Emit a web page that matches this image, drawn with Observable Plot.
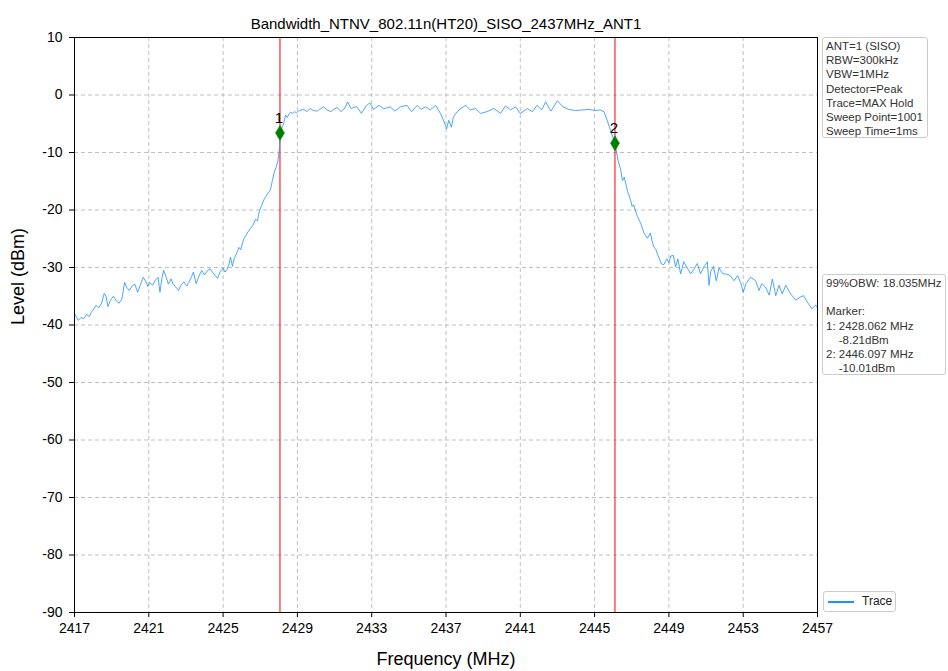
<!DOCTYPE html>
<html>
<head>
<meta charset="utf-8">
<script src="https://cdn.jsdelivr.net/npm/d3@7"></script>
<script src="https://cdn.jsdelivr.net/npm/@observablehq/plot@0.6"></script>
<style>
  html, body { margin: 0; padding: 0; background: #fff; }
  #wrap { position: relative; width: 948px; height: 671px; font-family: "Liberation Sans", Arial, sans-serif; }
  .box { position: absolute; border: 1px solid #cccccc; border-radius: 3px; background: #fff;
         font-size: 11.5px; line-height: 14.2px; color: #333; padding: 1px 3px; box-sizing: border-box; white-space: pre; }
  #legend { position: absolute; left: 823px; top: 591px; width: 73px; height: 21px; border: 1px solid #cccccc;
            border-radius: 3px; box-sizing: border-box; font-size: 12px; color: #222; background: #fff; }
  #legend .ln { position: absolute; left: 4px; top: 9px; width: 26px; height: 2px; background: #1e90ff; }
  #legend .tx { position: absolute; left: 38px; top: 2px; }
</style>
</head>
<body>
<div id="wrap"></div>
<script>
const title = "Bandwidth_NTNV_802.11n(HT20)_SISO_2437MHz_ANT1";
const xLabel = "Frequency (MHz)";
const yLabel = "Level (dBm)";
const xTicks = [2417, 2421, 2425, 2429, 2433, 2437, 2441, 2445, 2449, 2453, 2457];
const yTicks = [-90, -80, -70, -60, -50, -40, -30, -20, -10, 0, 10];

const traceFreq = [
2417.0,2417.1,2417.2,2417.35,2417.5,2417.65,2417.8,2417.9,2418.05,2418.15,
2418.3,2418.45,2418.6,2418.7,2418.8,2418.95,2419.1,2419.25,2419.4,2419.55,
2419.7,2419.8,2419.95,2420.1,2420.25,2420.4,2420.55,2420.7,2420.85,2420.95,
2421.05,2421.2,2421.35,2421.5,2421.6,2421.7,2421.8,2421.95,2422.05,2422.2,
2422.3,2422.45,2422.6,2422.75,2422.9,2423.05,2423.15,2423.3,2423.4,2423.55,
2423.7,2423.85,2424.0,2424.15,2424.3,2424.45,2424.6,2424.7,2424.85,2425.0,
2425.1,2425.2,2425.3,2425.4,2425.5,2425.6,2425.75,2425.85,2425.95,2426.1,
2426.2,2426.3,2426.45,2426.6,2426.75,2426.85,2426.95,2427.05,2427.2,2427.3,
2427.45,2427.55,2427.65,2427.75,2427.85,2427.95,2428.04,2428.062,2428.18,2428.26,
2428.36,2428.45,2428.55,2428.63,2428.75,2428.85,2428.95,2429.06,2429.2,2429.35,
2429.5,2429.7,2429.85,2430.07,2430.2,2430.4,2430.6,2430.8,2431.0,2431.15,
2431.35,2431.55,2431.7,2431.9,2432.05,2432.2,2432.45,2432.7,2432.9,2433.1,
2433.4,2433.65,2434.0,2434.25,2434.55,2434.9,2435.15,2435.45,2435.65,2435.9,
2436.15,2436.44,2436.7,2436.9,2437.03,2437.15,2437.29,2437.4,2437.6,2437.8,
2438.06,2438.3,2438.6,2438.86,2439.2,2439.58,2439.94,2440.2,2440.48,2440.75,
2441.0,2441.38,2441.65,2441.9,2442.15,2442.36,2442.65,2443.0,2443.3,2443.6,
2443.98,2444.34,2444.7,2445.06,2445.3,2445.5,2445.68,2445.86,2446.097,2446.26,
2446.4,2446.5,2446.6,2446.76,2446.94,2447.02,2447.1,2447.3,2447.48,2447.66,
2447.84,2448.0,2448.17,2448.3,2448.46,2448.6,2448.73,2448.82,2448.9,2449.0,
2449.1,2449.24,2449.36,2449.48,2449.63,2449.8,2449.99,2450.17,2450.35,2450.53,
2450.7,2450.9,2451.07,2451.16,2451.25,2451.4,2451.55,2451.7,2451.9,2452.06,
2452.3,2452.5,2452.7,2452.86,2453.0,2453.15,2453.4,2453.67,2453.85,2454.0,
2454.2,2454.4,2454.57,2454.75,2454.93,2455.1,2455.29,2455.56,2455.83,2456.1,
2456.25,2456.45,2456.7,2456.9,2457.0
];
const traceLevel = [
-38.0,-38.6,-39.2,-38.7,-38.9,-38.2,-38.5,-37.8,-37.2,-36.6,
-37.0,-36.3,-34.5,-35.0,-36.8,-35.6,-35.0,-35.8,-36.2,-35.5,
-32.6,-33.4,-34.0,-33.2,-32.9,-34.3,-33.0,-31.7,-32.5,-33.3,
-32.6,-33.1,-32.2,-31.7,-34.3,-32.0,-30.5,-31.8,-32.9,-32.0,
-32.8,-33.4,-34.0,-33.0,-32.5,-33.2,-32.6,-31.6,-30.8,-32.8,
-31.5,-30.5,-31.3,-30.6,-30.2,-30.9,-31.5,-31.9,-30.7,-30.1,
-30.8,-30.4,-29.6,-28.2,-29.8,-28.4,-27.4,-26.5,-26.9,-25.1,
-24.6,-24.0,-23.3,-22.7,-21.6,-21.9,-20.2,-19.4,-18.2,-17.7,
-16.9,-16.5,-14.9,-13.5,-12.6,-11.5,-9.1,-6.6,-5.6,-5.0,
-3.5,-3.9,-3.3,-3.0,-3.2,-2.9,-3.1,-2.8,-2.6,-2.5,
-2.9,-2.35,-2.7,-2.8,-2.5,-2.06,-2.6,-2.9,-2.4,-2.2,
-2.9,-2.3,-1.2,-2.4,-2.1,-2.06,-3.2,-1.9,-1.35,-2.5,
-1.8,-2.4,-2.06,-2.8,-2.06,-1.8,-2.9,-1.8,-2.5,-2.06,
-2.6,-1.8,-3.2,-4.7,-5.9,-4.4,-5.6,-3.8,-2.9,-2.35,
-1.8,-2.6,-2.35,-3.2,-2.9,-2.35,-3.2,-1.9,-2.6,-2.06,
-3.2,-2.35,-2.9,-1.8,-2.6,-1.2,-2.8,-1.0,-2.06,-2.5,
-2.7,-2.6,-2.5,-2.7,-2.6,-2.9,-4.4,-6.2,-8.4,-11.4,
-12.9,-14.9,-14.3,-16.6,-18.3,-19.4,-19.1,-21.1,-22.3,-24.0,
-24.9,-24.0,-26.3,-26.9,-28.3,-29.4,-29.5,-28.9,-28.5,-29.2,
-28.0,-27.9,-29.9,-28.5,-31.1,-29.0,-30.1,-31.1,-30.3,-29.3,
-31.1,-29.8,-29.0,-33.1,-30.7,-29.8,-32.3,-30.1,-31.1,-31.1,
-31.4,-32.3,-31.4,-32.6,-34.3,-32.8,-31.7,-32.3,-34.0,-32.8,
-33.4,-34.8,-32.0,-34.9,-33.1,-34.6,-33.1,-34.6,-35.7,-35.1,
-34.9,-36.0,-37.2,-36.5,-37.0
];

const markerIds = ["1", "2"];
const markerFreq = [2428.062, 2446.097];
const markerLevel = [-6.6, -8.4];

const settingsText = ["ANT=1 (SISO)", "RBW=300kHz", "VBW=1MHz", "Detector=Peak", "Trace=MAX Hold", "Sweep Point=1001", "Sweep Time=1ms"];
const resultText = ["99%OBW: 18.035MHz", "", "Marker:", "1: 2428.062 MHz", "    -8.21dBm", "2: 2446.097 MHz", "    -10.01dBm"];
const legendLabel = "Trace";

const trace = traceFreq.map((f, i) => ({f, v: traceLevel[i]}));
const markers = markerIds.map((id, i) => ({id, f: markerFreq[i], v: markerLevel[i]}));

const thinDiamond = {
  draw(ctx, size) {
    const h = Math.sqrt(size / Math.PI);
    const w = h * 0.6;
    ctx.moveTo(0, -h); ctx.lineTo(w, 0); ctx.lineTo(0, h); ctx.lineTo(-w, 0); ctx.closePath();
  }
};

const font = "'Liberation Sans', Arial, sans-serif";
const grid = {stroke: "#b0b0b0", strokeOpacity: 1, strokeDasharray: "4,3", strokeWidth: 0.8};

const chart = Plot.plot({
  width: 948, height: 671,
  marginLeft: 74, marginRight: 131, marginTop: 37, marginBottom: 59,
  x: {domain: [2417, 2457]},
  y: {domain: [-90, 10]},
  style: {fontFamily: font, fontSize: "14px", color: "black", background: "white"},
  marks: [
    Plot.gridX(xTicks, grid),
    Plot.gridY(yTicks, grid),
    Plot.axisX(xTicks, {tickSize: 5, tickPadding: 6, tickFormat: d => String(d), fontSize: 14, label: null}),
    Plot.axisY(yTicks, {tickSize: 5, tickPadding: 7, tickFormat: d => String(d), fontSize: 14, label: null}),
    Plot.ruleX(markerFreq, {stroke: "red", strokeWidth: 1}),
    Plot.line(trace, {x: "f", y: "v", stroke: "#1e90ff", strokeWidth: 0.8}),
    Plot.dot(markers, {x: "f", y: "v", symbol: thinDiamond, r: 7.5, fill: "green", stroke: "green", strokeWidth: 0.5}),
    Plot.text(markers, {x: "f", y: "v", text: "id", dy: -15, dx: -1, fontSize: 15, fill: "black"}),
    Plot.frame({stroke: "black", strokeWidth: 1}),
    Plot.text([title], {frameAnchor: "top", dy: -19, text: d => d, fontSize: 15, fill: "black"}),
    Plot.text([xLabel], {frameAnchor: "bottom", dy: 52, text: d => d, fontSize: 18, fill: "black"}),
    Plot.text([yLabel], {frameAnchor: "left", dx: -56, rotate: -90, text: d => d, fontSize: 18, fill: "black"})
  ]
});

const wrap = document.getElementById("wrap");
wrap.appendChild(chart);

const b1 = document.createElement("div");
b1.className = "box";
b1.style.cssText = "left:822px;top:37px;width:106px;height:101px;";
b1.textContent = settingsText.join("\n");
wrap.appendChild(b1);

const b2 = document.createElement("div");
b2.className = "box";
b2.style.cssText = "left:822px;top:274px;width:124px;height:101px;";
b2.textContent = resultText.join("\n");
wrap.appendChild(b2);

const lg = document.createElement("div");
lg.id = "legend";
lg.innerHTML = '<div class="ln"></div><div class="tx"></div>';
lg.querySelector(".tx").textContent = legendLabel;
wrap.appendChild(lg);
</script>
</body>
</html>
